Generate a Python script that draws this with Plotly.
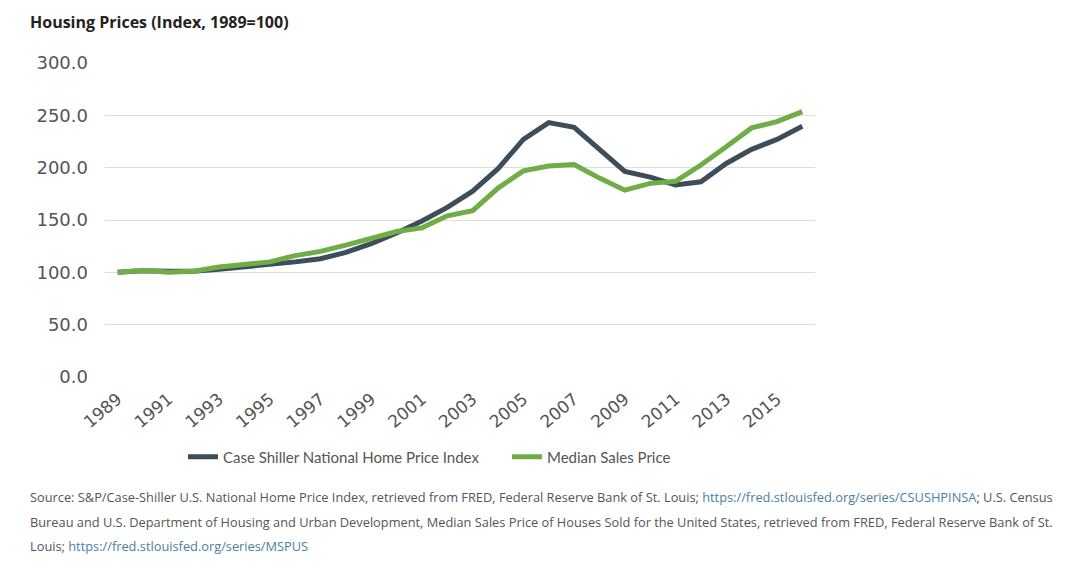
import plotly.graph_objects as go

years = [str(y) for y in range(1989, 2017)]
case_shiller = [100, 101.5, 101, 101, 103, 105, 107.5, 110, 113, 119, 127.5, 137.5,
                149, 162, 177.5, 199, 227, 243, 238.5, 217.5, 196.5, 191, 183.5, 186.5,
                204, 217.5, 227, 239.5]
median_sales = [100, 102, 100, 101, 105, 107.5, 110, 116, 120, 126, 132, 139,
                142.5, 154, 159, 180.5, 197, 201.5, 203, 190, 178.5, 185, 187, 202.5,
                220, 238, 244, 253.5]
tick_years = [str(y) for y in range(1989, 2017, 2)]
y_ticks = [0, 50, 100, 150, 200, 250, 300]

title_text = "Housing Prices (Index, 1989=100)"
name_cs = "Case Shiller National Home Price Index"
name_ms = "Median Sales Price"
link_color = "#4a7ea6"
src_lines = [
    "Source: S&P/Case-Shiller U.S. National Home Price Index, retrieved from FRED, Federal Reserve Bank of St. Louis; "
    f"<span style='color:{link_color}'>https://fred.stlouisfed.org/series/CSUSHPINSA</span>; U.S. Census",
    "Bureau and U.S. Department of Housing and Urban Development, Median Sales Price of Houses Sold for the United States, retrieved from FRED, Federal Reserve Bank of St.",
    f"Louis; <span style='color:{link_color}'>https://fred.stlouisfed.org/series/MSPUS</span>",
]

# page body has an 8px default margin; work in screen pixels and offset
OFF = 8
W, H = 1088, 569
ml = 105 - OFF
mt = 63 - OFF
plot_right = 815 - OFF
plot_bottom = 377 - OFF
mr = W - plot_right
mb = H - plot_bottom
pw = W - ml - mr
ph = H - mt - mb

def px_x(x):
    return (x - OFF - ml) / pw

def px_y(y):
    return (plot_bottom - (y - OFF)) / ph

fig = go.Figure()
fig.add_trace(go.Scatter(x=years, y=case_shiller, mode="lines",
                         name=name_cs + "\u00a0" * 6,
                         line=dict(color="#3d4d59", width=5)))
fig.add_trace(go.Scatter(x=years, y=median_sales, mode="lines", name=name_ms,
                         line=dict(color="#71ad47", width=5)))

annotations = [dict(text=f"<b>{title_text}</b>", xref="paper", yref="paper",
                    x=px_x(28), y=px_y(OFF + 1), xanchor="left", yanchor="top",
                    showarrow=False, font=dict(family="Open Sans", size=16, color="#222222"))]
for i, line in enumerate(src_lines):
    annotations.append(dict(text=line, xref="paper", yref="paper",
                            x=px_x(28), y=px_y(497 + i * 24.5), xanchor="left", yanchor="middle",
                            showarrow=False, align="left",
                            font=dict(family="Open Sans", size=12.8, color="#555555")))

fig.update_layout(
    width=W, height=H,
    margin=dict(l=ml, r=mr, t=mt, b=mb),
    paper_bgcolor="white", plot_bgcolor="white",
    showlegend=True,
    legend=dict(orientation="h", x=px_x(183), y=px_y(457), xanchor="left", yanchor="middle",
                font=dict(family="Lato", size=15, color="#555555"), itemwidth=30,
                traceorder="normal"),
    annotations=annotations,
    xaxis=dict(type="category", range=[-0.5, len(years) - 0.5], tickmode="array",
               tickvals=tick_years, ticktext=tick_years, tickangle=-40,
               showgrid=False, showline=False, ticks="", zeroline=False,
               ticklabelstandoff=8,
               tickfont=dict(family="DejaVu Sans", size=17, color="#555555")),
    yaxis=dict(range=[0, 300], tickmode="array", tickvals=y_ticks,
               ticktext=[f"{v:.1f}" for v in y_ticks],
               showgrid=True, gridcolor="#dddddd", gridwidth=1, zeroline=False,
               showline=False, ticks="", ticklabelstandoff=16,
               tickfont=dict(family="DejaVu Sans", size=18, color="#555555")),
)

fig.write_html("out.html")
